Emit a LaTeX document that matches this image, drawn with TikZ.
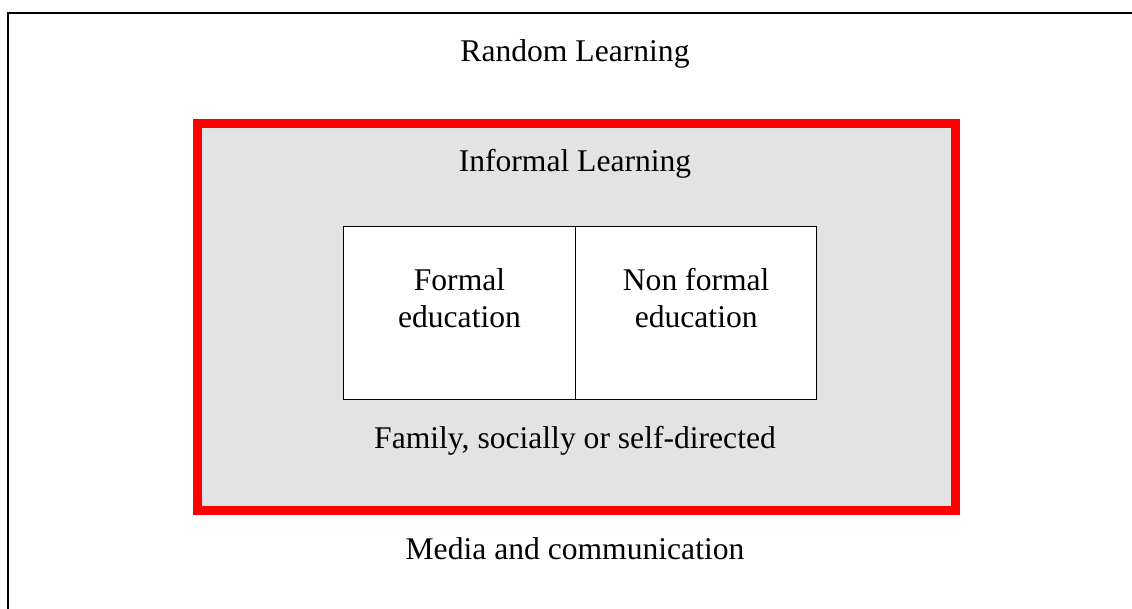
\documentclass[tikz,border=0pt]{standalone}
\usepackage{fontspec}
\setmainfont{Liberation Serif}
\usetikzlibrary{positioning}

\tikzset{
  lbl/.style={anchor=base,inner sep=0pt,font=\fontsize{31.6}{37}\selectfont},
  edubox/.style={draw,line width=1.5pt,fill=white,inner sep=0pt,minimum height=172.6pt},
}

\begin{document}
\begin{tikzpicture}[x=1pt,y=-1pt]
    \useasboundingbox (0,0) rectangle (1132,608);
    \clip (0,0) rectangle (1132,608);

    % outer frame, only left and top edge visible
    \draw[line width=1.5pt] (7.8,13) rectangle (1150,630);
    \node[lbl] (random) at (575,61) {Random Learning};
    \node[lbl] (media) at (575,559) {Media and communication};

    % informal learning box
    \node[draw=red,line width=9pt,fill=black!11,inner sep=0pt,
          minimum width=758pt,minimum height=387pt] (informal) at (576.5,317) {};
    \node[lbl] (informaltxt) at (575,171.7) {Informal Learning};
    \node[lbl] (family) at (575,448) {Family, socially or self-directed};

    % formal and non formal
    \node[edubox,minimum width=232.4pt] (formal) at (459.5,313) {};
    \node[edubox,minimum width=241pt] (nonformal) at (696.2,313) {};

    \node[lbl,align=center,anchor=north,below=42pt of formal.north] (formaltxt) {Formal\\education};
    \node[lbl,align=center,anchor=north,below=42pt of nonformal.north] (nonformaltxt) {Non formal\\education};

\end{tikzpicture}
\end{document}
